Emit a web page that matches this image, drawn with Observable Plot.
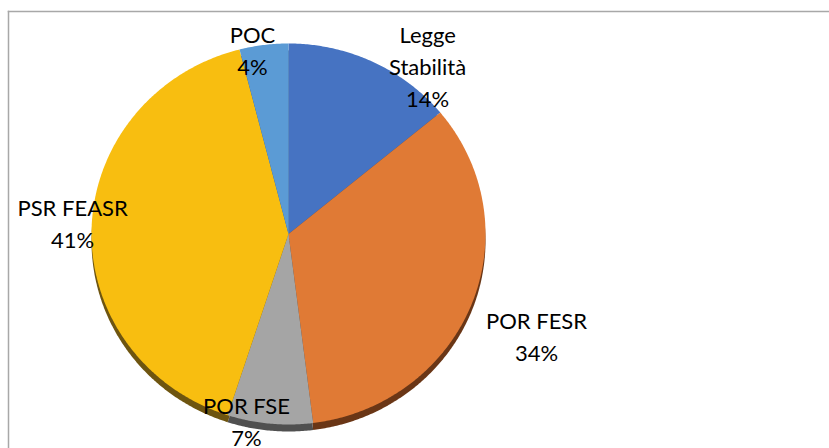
<!DOCTYPE html>
<html><head><meta charset="utf-8">
<script src="https://cdn.jsdelivr.net/npm/d3@7"></script>
<script src="https://cdn.jsdelivr.net/npm/@observablehq/plot@0.6"></script>
<style>body{margin:0;background:#fff}</style>
</head><body><div id="chart"></div>
<script>
// Data
const categories = ["Legge Stabilità", "POR FESR", "POR FSE", "PSR FEASR", "POC"];
const percents = [14, 34, 7, 41, 4];
const labelNames = ["Legge\nStabilità", "POR FESR", "POR FSE", "PSR FEASR", "POC"];

// Styles
const colors = ["#4673C2", "#E07A35", "#A5A5A5", "#F8BE10", "#5B9BD5"];
const shadowColors = ["#263F6C", "#6A3616", "#505050", "#6E5510", "#2F5277"];
// label anchors, in pie-normalized units (pie radius = 1)
const labelAnchors = [[0.706, 0.889], [1.259, -0.529], [-0.213, -0.974], [-1.096, 0.063], [-0.183, 0.974]];

const data = categories.map((name, i) => ({name, value: percents[i]}));
const slices = d3.pie().sort(null).value(d => d.value)(data);
const pts = slices.flatMap(s => {
  const n = Math.max(2, Math.ceil((s.endAngle - s.startAngle) / (Math.PI / 360)));
  const arr = [{name: s.data.name, x: 0, y: 0}];
  for (let i = 0; i <= n; i++) {
    const a = s.startAngle + (s.endAngle - s.startAngle) * i / n;
    arr.push({name: s.data.name, x: Math.sin(a), y: Math.cos(a)});
  }
  return arr;
});
const labels = data.map((d, i) => ({
  text: labelNames[i] + "\n" + d.value + "%",
  x: labelAnchors[i][0], y: labelAnchors[i][1]
}));

const chart = Plot.plot({
  width: 829, height: 448,
  marginTop: 11, marginLeft: 8, marginRight: 0, marginBottom: 0,
  x: {domain: [-1, 1], range: [91, 485], axis: null},
  y: {domain: [-1, 1], range: [424, 43], axis: null},
  color: {domain: categories, range: colors},
  style: {fontFamily: "Lato, sans-serif", background: "#fff", overflow: "visible"},
  marks: [
    Plot.frame({anchor: "top", stroke: "#A8A8A8", strokeWidth: 1.5}),
    Plot.frame({anchor: "left", stroke: "#A8A8A8", strokeWidth: 1.5}),
    ...categories.map((c, i) => Plot.line(pts.filter(p => p.name === c), {x: "x", y: "y", fill: shadowColors[i], stroke: "none", dy: 7})),
    Plot.line(pts, {x: "x", y: "y", z: "name", fill: "name", stroke: "none"}),
    Plot.text(labels, {x: "x", y: "y", text: "text", fontSize: 22, lineHeight: 1.45, fill: "#000"})
  ]
});
document.getElementById("chart").appendChild(chart);
</script>
</body></html>
